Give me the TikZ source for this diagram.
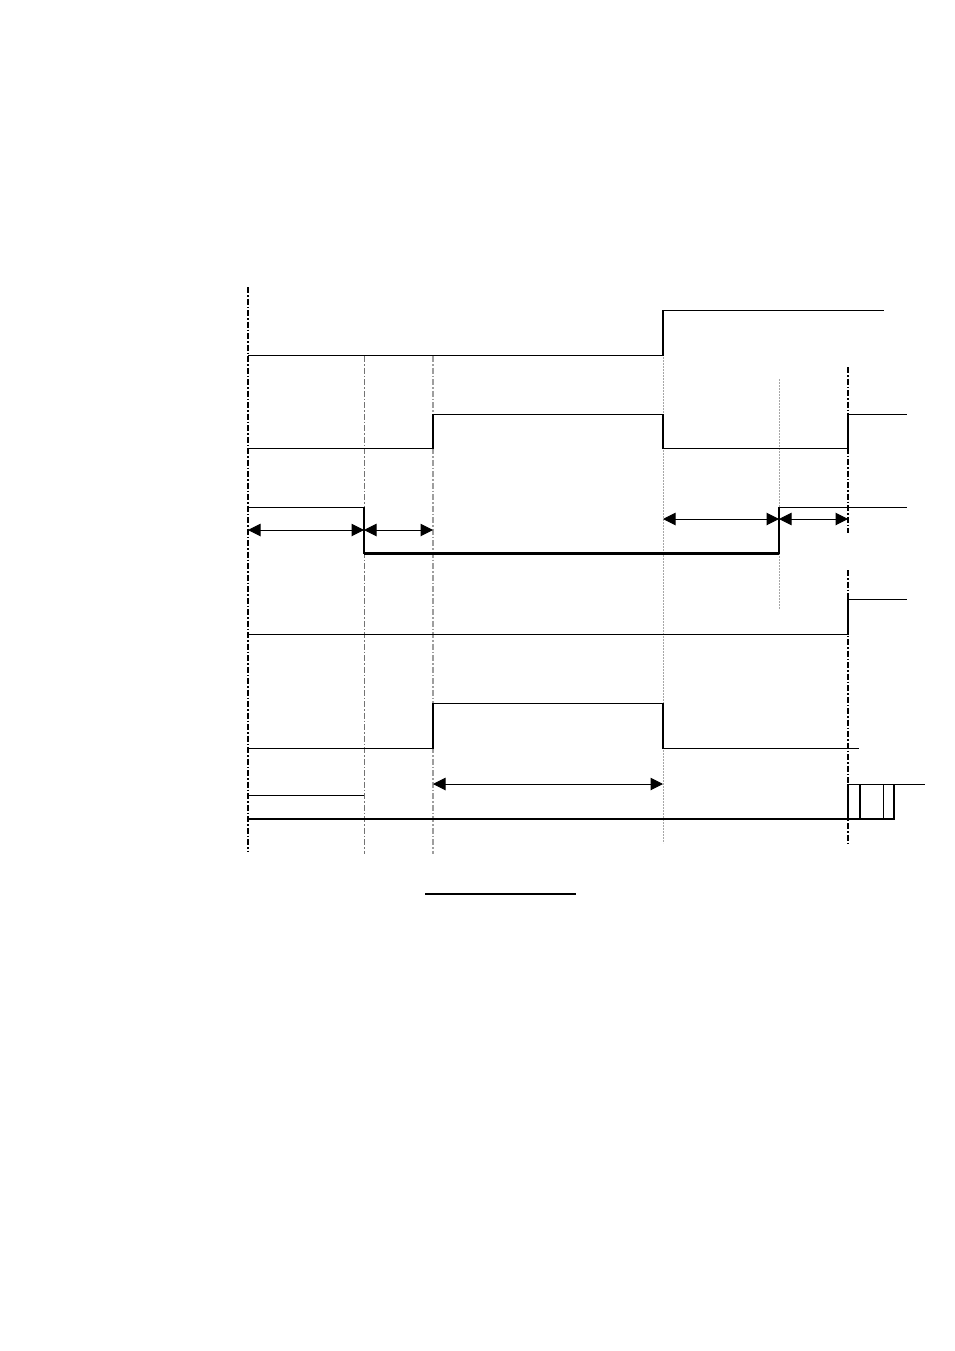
\documentclass[tikz,border=0pt]{standalone}
\usetikzlibrary{arrows.meta}
\begin{document}
\begin{tikzpicture}[x=1pt,y=-1pt,
  sig/.style={line width=1.3pt, line cap=butt},
  bus/.style={line width=2.4pt},
  dimarrow/.style={line width=1pt, {Triangle[length=12.5pt,width=12.5pt]}-{Triangle[length=12.5pt,width=12.5pt]}},
  blackdd/.style={black, line width=1.2pt, dash pattern=on 6pt off 2pt on 1.5pt off 2pt},
  darkdd/.style={black!55, line width=1pt, dash pattern=on 6pt off 2pt on 1.5pt off 2pt},
  lightdd/.style={black!38, line width=2pt, dash pattern=on 6pt off 2pt on 1.5pt off 2pt},
  fine/.style={black!35, line width=0.8pt, dash pattern=on 2pt off 1pt}]
\useasboundingbox (0,0) rectangle (954,1351);
% time markers
\coordinate (t0) at (248,530);
\coordinate (t1) at (364,530);
\coordinate (t2) at (433,530);
\coordinate (t3) at (663,519);
\coordinate (t4) at (779,519);
\coordinate (t5) at (848,519);
\coordinate (u2) at (433,784);
\coordinate (u3) at (663,784);
% vertical reference lines
\draw[blackdd] (248,287) -- (248,852);
\draw[darkdd] (364,356) -- (364,854);
\draw[lightdd] (433,356) -- (433,854);
\draw[fine] (663,357) -- (663,843);
\draw[fine] (779,379) -- (779,609);
\draw[blackdd] (848,367) -- (848,533);
\draw[blackdd] (848,570) -- (848,843);
% signal 1
\draw[sig] (248,355.5) -- (663,355.5) -- (663,310.5) -- (884,310.5);
% signal 2
\draw[sig] (248,448.5) -- (433,448.5) -- (433,414.5) -- (663,414.5) -- (663,448.5) -- (848,448.5) -- (848,414.5) -- (907,414.5);
% signal 3
\draw[sig] (248,507.5) -- (364,507.5) -- (364,553.5);
\draw[bus] (364,553.5) -- (779,553.5);
\draw[sig] (779,553.5) -- (779,507.5) -- (907,507.5);
% signal 4
\draw[sig] (248,634.5) -- (848,634.5) -- (848,599.5) -- (907,599.5);
% signal 5
\draw[sig] (248,748.5) -- (433,748.5) -- (433,703.5) -- (663,703.5) -- (663,748.5) -- (859,748.5);
% signal 6
\draw[sig] (248,795.5) -- (364,795.5);
\draw[bus] (248,819) -- (848,819);
\draw[sig] (848,819) -- (848,784.5) -- (925,784.5);
\draw[sig] (848,819) -- (894,819) -- (894,784.5);
\draw[line width=2.2pt] (860,784.5) -- (860,819);
\draw[sig] (883.5,784.5) -- (883.5,819);
% dimension arrows
\draw[dimarrow] (t0) -- (t1);
\draw[dimarrow] (t1) -- (t2);
\draw[dimarrow] (t3) -- (t4);
\draw[dimarrow] (t4) -- (t5);
\draw[dimarrow] (u2) -- (u3);
% underline
\draw[line width=1.3pt] (425,894) -- (576,894);
\end{tikzpicture}
\end{document}
